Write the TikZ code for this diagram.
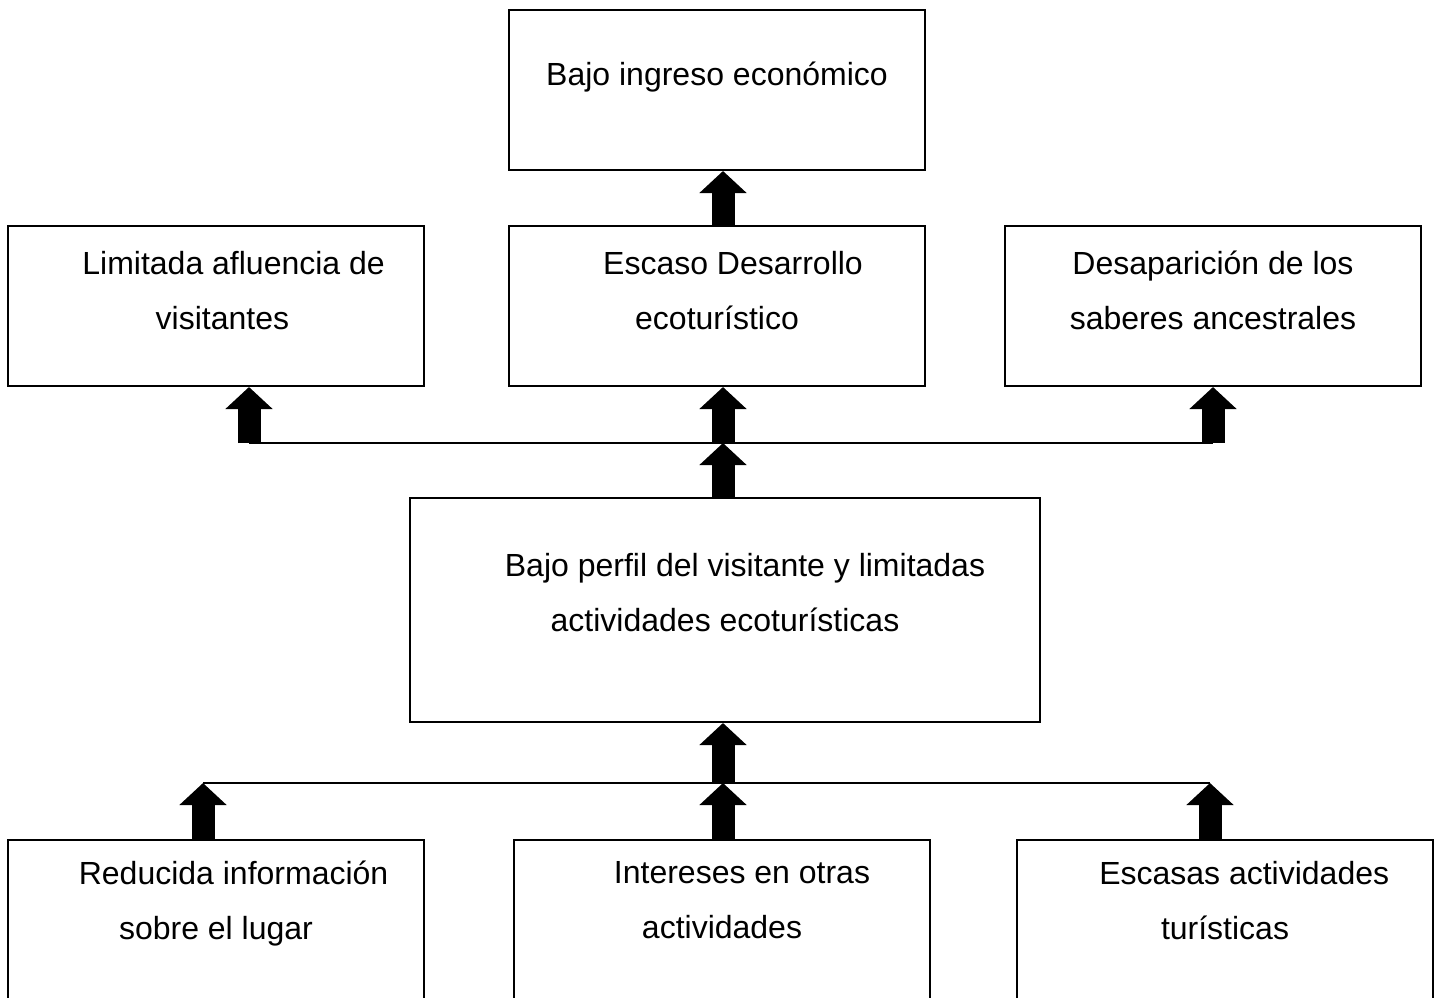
\documentclass[tikz,border=0pt]{standalone}
\usepackage{fontspec}
\setmainfont{Liberation Sans}
\usetikzlibrary{arrows.meta}
\begin{document}
\begin{tikzpicture}[x=0.5pt,y=-0.5pt,
	box/.style={draw,line width=1pt,rectangle,minimum width=208pt,minimum height=80pt,
		align=center,inner sep=0pt,text depth=16pt,
		font={\fontsize{16pt}{27.5pt}\selectfont}},
	blockarrow/.style={line width=11.5pt,-{Triangle[width=23pt,length=11pt]}},
	bar/.style={line width=0.6pt}]
	\useasboundingbox (0,0) rectangle (1443,997);
	% efectos
	\node[box] (ingreso) at (717,90) {Bajo ingreso econ\'omico};
	\node[box] (afluencia) at (216,306) {\hspace*{1.1em}Limitada afluencia de\\\hspace*{0.4em}visitantes};
	\node[box] (desarrollo) at (717,306) {\hspace*{1em}Escaso Desarrollo\\ecotur\'istico};
	\node[box] (saberes) at (1213,306) {Desaparici\'on de los\\saberes ancestrales};
	% problema central
	\node[box,minimum width=315pt,minimum height=112pt,text depth=18pt] (perfil) at (725,610)
		{\hspace*{1.25em}Bajo perfil del visitante y limitadas\\actividades ecotur\'isticas};
	% causas
	\node[box,text depth=20pt] (informacion) at (216,920) {\hspace*{1.1em}Reducida informaci\'on\\sobre el lugar};
	\node[box,text depth=20pt] (intereses) at (722,920) {\hspace*{1.25em}Intereses en otras\\actividades};
	\node[box,text depth=20pt] (escasas) at (1225,920) {\hspace*{1.2em}Escasas actividades\\tur\'isticas};
	\coordinate (upL) at (249,443);
	\coordinate (upM) at (723,443);
	\coordinate (upR) at (1213,443);
	\coordinate (loL) at (203,783);
	\coordinate (loM) at (723,783);
	\coordinate (loR) at (1210,783);
	\draw[bar] (upL) -- (upR);
	\draw[bar] (loL) -- (loR);
	\draw[blockarrow] (desarrollo.north -| upM) -- (ingreso.south -| upM);
	\draw[blockarrow] (upL) -- (upL |- afluencia.south);
	\draw[blockarrow] (upM) -- (upM |- desarrollo.south);
	\draw[blockarrow] (upR) -- (upR |- saberes.south);
	\draw[blockarrow] (upM |- perfil.north) -- (upM);
	\draw[blockarrow] (loM) -- (loM |- perfil.south);
	\draw[blockarrow] (loL |- informacion.north) -- (loL);
	\draw[blockarrow] (loM |- intereses.north) -- (loM);
	\draw[blockarrow] (loR |- escasas.north) -- (loR);
\end{tikzpicture}
\end{document}
